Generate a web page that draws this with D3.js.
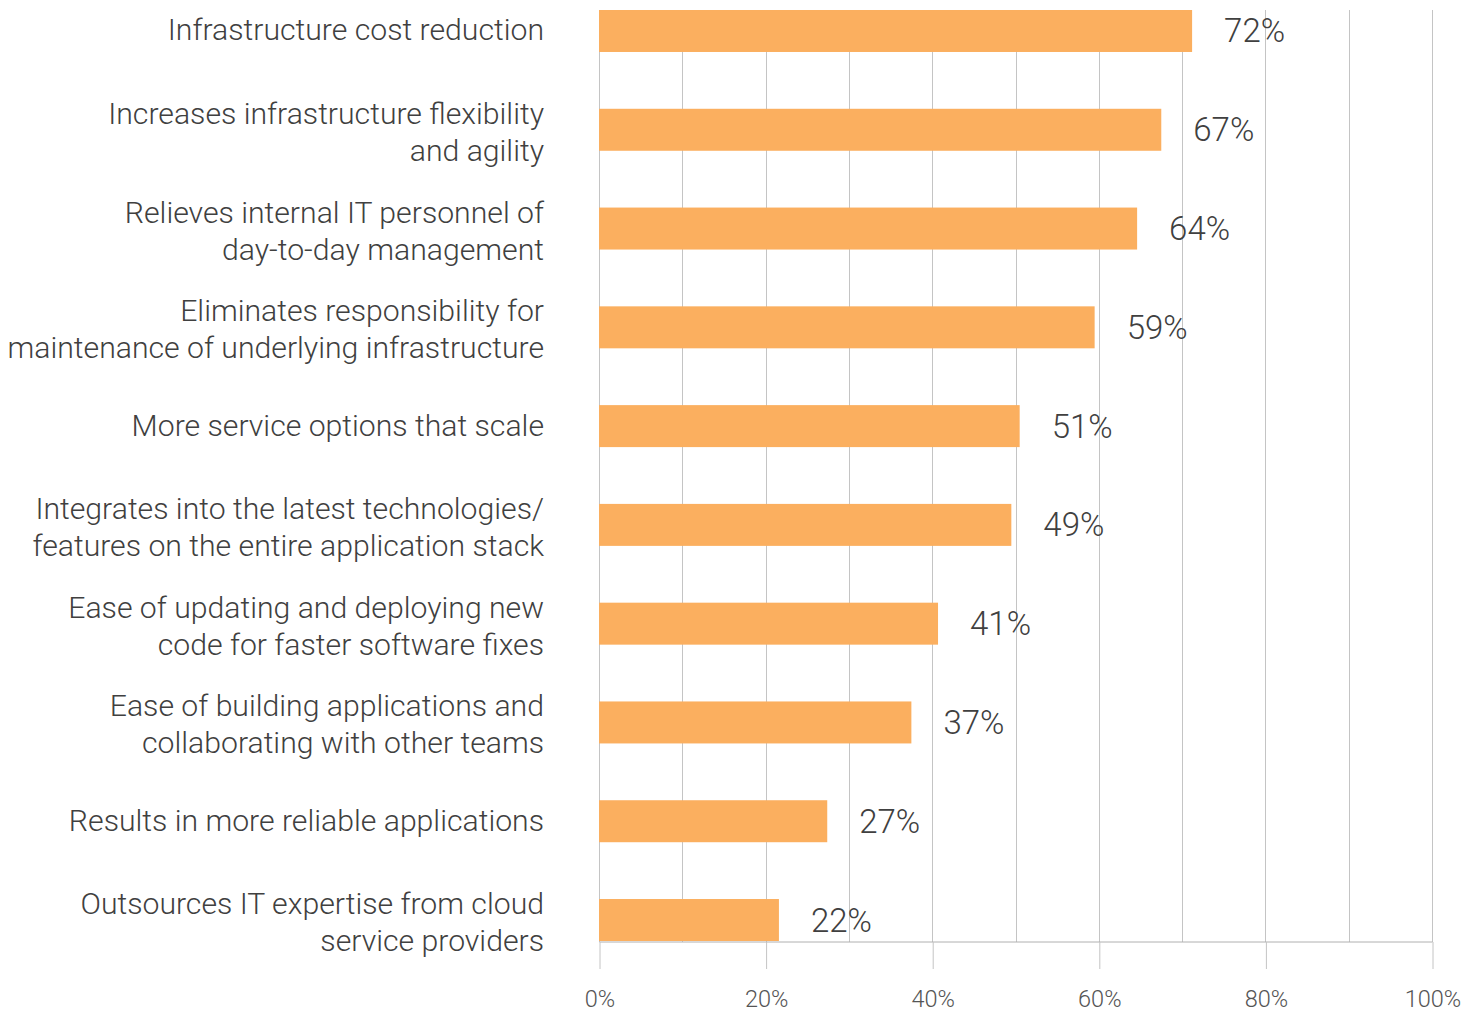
<!DOCTYPE html>
<html><head><meta charset="utf-8">
<script src="https://cdn.jsdelivr.net/npm/d3@7"></script>
<style>
html,body{margin:0;padding:0;background:#fff;}
text{font-family:"Helvetica Neue","Roboto","Liberation Sans",sans-serif;}
</style></head>
<body>
<svg id="chart" width="1480" height="1018"></svg>
<script>
const categories = [
  ["Infrastructure cost reduction"],
  ["Increases infrastructure flexibility", "and agility"],
  ["Relieves internal IT personnel of", "day-to-day management"],
  ["Eliminates responsibility for", "maintenance of underlying infrastructure"],
  ["More service options that scale"],
  ["Integrates into the latest technologies/", "features on the entire application stack"],
  ["Ease of updating and deploying new", "code for faster software fixes"],
  ["Ease of building applications and", "collaborating with other teams"],
  ["Results in more reliable applications"],
  ["Outsources IT expertise from cloud", "service providers"]
];
const values = [71.2, 67.5, 64.6, 59.5, 50.5, 49.5, 40.7, 37.5, 27.4, 21.6];
const valueLabels = ["72%", "67%", "64%", "59%", "51%", "49%", "41%", "37%", "27%", "22%"];
const gridTicks = [0, 10, 20, 30, 40, 50, 60, 70, 80, 90, 100];
const axisTicks = [0, 20, 40, 60, 80, 100];

(function(){
const svg = d3.select("#chart");
const x = d3.scaleLinear().domain([0, 100]).range([599, 1432]);
const y = d3.scaleBand().domain(d3.range(categories.length)).range([10, 941]).paddingInner(0.575).paddingOuter(0);
const plotTop = 10, base = 942;

// gridlines
svg.append("g").selectAll("line").data(gridTicks).join("line")
  .attr("x1", d => Math.round(x(d)) + 0.5).attr("x2", d => Math.round(x(d)) + 0.5)
  .attr("y1", plotTop).attr("y2", base)
  .attr("stroke", "#c4c4c4").attr("stroke-width", 1);

// bars
svg.append("g").selectAll("rect").data(values).join("rect")
  .attr("x", x(0)).attr("y", (d, i) => y(i))
  .attr("width", d => x(d) - x(0)).attr("height", y.bandwidth())
  .attr("fill", "#FBAF5F");

// x axis
const axis = d3.axisBottom(x).tickValues(axisTicks).tickFormat(d => d + "%").tickSize(27).tickPadding(21);
const ax = svg.append("g").attr("transform", `translate(0.5,${base})`).call(axis);
ax.select(".domain").attr("stroke", "#b0b0b0").attr("d", `M${x(0)},0H${x(100)}`);
ax.selectAll(".tick line").attr("stroke", "#c4c4c4");
ax.selectAll(".tick text").attr("fill", "#555").attr("font-size", 23.5).attr("font-weight", 300);

// category labels
const lineH = 37;
const lab = svg.append("g").selectAll("text").data(categories).join("text")
  .attr("text-anchor", "end").attr("fill", "#404040").attr("font-size", 30.2).attr("font-weight", 300)
  .attr("x", 544)
  .attr("y", (d, i) => y(i) + y.bandwidth() / 2 + (d.length > 1 ? 2 : -1));
lab.selectAll("tspan").data(d => d.map((t, j) => ({t, j, n: d.length}))).join("tspan")
  .attr("x", 544)
  .attr("dy", (d) => d.j === 0 ? ((-(d.n - 1) / 2) * lineH) : lineH)
  .attr("dominant-baseline", "central")
  .text(d => d.t);

// value labels
svg.append("g").selectAll("text").data(values).join("text")
  .attr("x", d => x(d) + 32).attr("y", (d, i) => y(i) + y.bandwidth() / 2)
  .attr("dominant-baseline", "central")
  .attr("fill", "#404040").attr("font-size", 33).attr("font-weight", 300)
  .text((d, i) => valueLabels[i]);
})();
</script>
</body></html>
